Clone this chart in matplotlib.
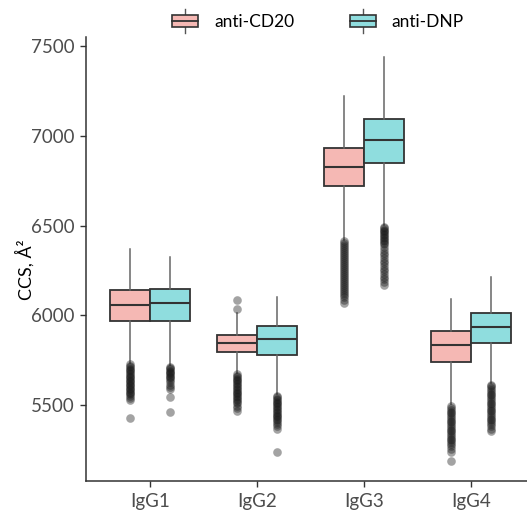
import matplotlib
matplotlib.use("Agg")
import matplotlib.pyplot as plt
from matplotlib.patches import Rectangle
from matplotlib.lines import Line2D
from matplotlib.legend_handler import HandlerBase

plt.rcParams['font.family'] = ['Lato', 'DejaVu Sans']

categories = ["IgG1", "IgG2", "IgG3", "IgG4"]
groups = ["anti-CD20", "anti-DNP"]
colors = {"anti-CD20": "#F5B8B4", "anti-DNP": "#8FDDDE"}

# five-number summaries: [whislo, q1, med, q3, whishi]
cd20_stats = [
    [5735, 5970, 6059, 6139, 6372],
    [5680, 5796, 5846, 5891, 6015],
    [6422, 6718, 6828, 6930, 7219],
    [5506, 5741, 5835, 5915, 6089],
]
dnp_stats = [
    [5722, 5970, 6070, 6146, 6326],
    [5560, 5779, 5870, 5943, 6104],
    [6506, 6848, 6974, 7094, 7437],
    [5626, 5848, 5935, 6015, 6215],
]

cd20_fliers = [
    [5728, 5718, 5710, 5702, 5695, 5688, 5680, 5672, 5665, 5658, 5650, 5642,
     5635, 5627, 5620, 5612, 5605, 5597, 5590, 5582, 5575, 5567, 5560, 5552,
     5540, 5528, 5428],
    [6085, 6037, 5672, 5664, 5656, 5648, 5640, 5632, 5624, 5616, 5608, 5600,
     5592, 5584, 5576, 5568, 5560, 5552, 5544, 5536, 5528, 5520, 5510, 5498,
     5485, 5470],
    [6413, 6402, 6391, 6380, 6369, 6358, 6347, 6336, 6325, 6314, 6303, 6292,
     6281, 6270, 6259, 6248, 6237, 6226, 6215, 6204, 6193, 6182, 6171, 6160,
     6149, 6138, 6126, 6113, 6100, 6085, 6070],
    [5494, 5484, 5474, 5464, 5454, 5444, 5434, 5424, 5414, 5404, 5394, 5384,
     5374, 5364, 5354, 5344, 5334, 5324, 5314, 5304, 5294, 5284, 5272, 5258,
     5242, 5192],
]
dnp_fliers = [
    [5715, 5708, 5700, 5693, 5686, 5679, 5672, 5665, 5657, 5650, 5640, 5628,
     5615, 5600, 5588, 5546, 5463],
    [5552, 5544, 5536, 5528, 5520, 5512, 5504, 5496, 5488, 5480, 5472, 5464,
     5456, 5448, 5440, 5432, 5424, 5416, 5408, 5398, 5385, 5370, 5240],
    [6494, 6486, 6478, 6470, 6462, 6454, 6446, 6438, 6430, 6422, 6414, 6405,
     6395, 6380, 6365, 6350, 6335, 6320, 6305, 6290, 6275, 6260, 6245, 6230,
     6215, 6200, 6185, 6170],
    [5615, 5605, 5595, 5585, 5575, 5565, 5555, 5545, 5535, 5525, 5515, 5505,
     5495, 5485, 5475, 5465, 5455, 5445, 5435, 5425, 5415, 5405, 5395, 5383,
     5370, 5358],
]

yticks = [5500, 6000, 6500, 7000, 7500]

W, H, DPI = 527, 514, 100
fig = plt.figure(figsize=(W / DPI, H / DPI), dpi=DPI)
ax_left = 86 / W
ax_bottom = (H - 481) / H
ax_height = (481 - 37) / H
ax_width = (107 * 4.2) / W
ax = fig.add_axes([ax_left, ax_bottom, ax_width, ax_height])

box_w = 0.375
edge = "#333333"

def make_stats(stats, fliers):
    out = []
    for s, f in zip(stats, fliers):
        out.append(dict(whislo=s[0], q1=s[1], med=s[2], q3=s[3], whishi=s[4],
                        fliers=f))
    return out

for gi, (g, stats, fliers) in enumerate([("anti-CD20", cd20_stats, cd20_fliers),
                                          ("anti-DNP", dnp_stats, dnp_fliers)]):
    offset = -box_w / 2 if gi == 0 else box_w / 2
    pos = [i + 1 + offset for i in range(len(categories))]
    ax.bxp(make_stats(stats, fliers), positions=pos, widths=box_w,
           patch_artist=True, showcaps=False,
           boxprops=dict(facecolor=colors[g], edgecolor=edge, linewidth=1.3),
           medianprops=dict(color=edge, linewidth=1.5),
           whiskerprops=dict(color="#666666", linewidth=1.1),
           flierprops=dict(marker='o', markersize=6.2, markerfacecolor='#1a1a1a',
                           markeredgecolor='none', alpha=0.4))

ax.set_xlim(0.4, 4.6)
ax.set_ylim(5078, 7550)
ax.set_xticks(range(1, len(categories) + 1))
ax.set_xticklabels(categories)
ax.set_yticks(yticks)
ax.set_yticklabels([str(t) for t in yticks])
for s in ["top", "right"]:
    ax.spines[s].set_visible(False)
for s in ["left", "bottom"]:
    ax.spines[s].set_color("#333333")
    ax.spines[s].set_linewidth(1.1)
ax.tick_params(axis='both', colors="#333333", labelcolor="#4D4D4D",
               labelsize=13.5, length=4, width=1.0)
ax.tick_params(axis='y', pad=4)
ax.tick_params(axis='x', pad=5)
ax.set_ylabel("CCS, Å²", fontsize=13, color="black")
ax.yaxis.set_label_coords((35 - 86) / (107 * 4.2), 0.475)


class BoxHandler(HandlerBase):
    def create_artists(self, legend, orig_handle, xdescent, ydescent, width,
                       height, fontsize, trans):
        fc = orig_handle.get_facecolor()
        bh = height * 0.62
        by = -ydescent + (height - bh) / 2
        rect = Rectangle((-xdescent, by), width, bh, facecolor=fc,
                         edgecolor=edge, linewidth=1.2, transform=trans)
        cx = -xdescent + width / 2
        med = Line2D([-xdescent, -xdescent + width], [by + bh / 2] * 2,
                     color=edge, linewidth=1.3, transform=trans)
        w1 = Line2D([cx, cx], [by + bh, -ydescent + height + height * 0.15],
                    color="#555555", linewidth=1.0, transform=trans)
        w2 = Line2D([cx, cx], [by, -ydescent - height * 0.15],
                    color="#555555", linewidth=1.0, transform=trans)
        return [w1, w2, rect, med]

handles = [Rectangle((0, 0), 1, 1, facecolor=colors[g]) for g in groups]
leg = fig.legend(handles, groups, loc='center', ncol=2, frameon=False,
                 bbox_to_anchor=(318 / W, 1 - 21 / H), fontsize=12.5,
                 handler_map={Rectangle: BoxHandler()},
                 handlelength=1.5, handleheight=1.2, handletextpad=0.9,
                 columnspacing=3.2)

fig.savefig("out.png", dpi=DPI)
